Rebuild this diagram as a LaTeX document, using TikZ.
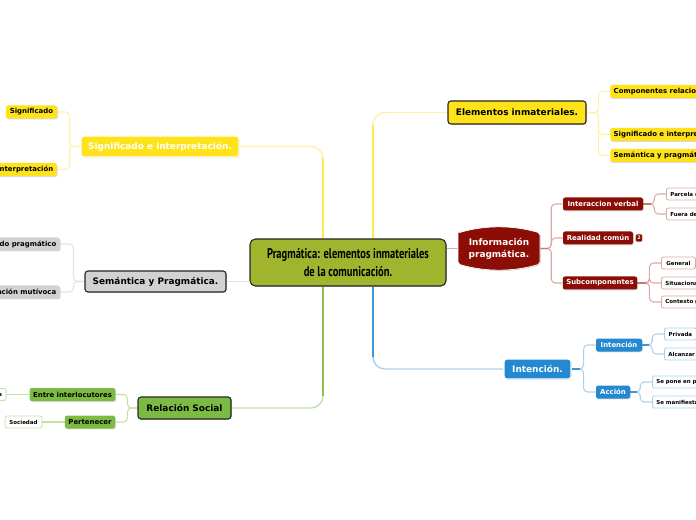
\documentclass[tikz,border=0pt]{standalone}
\usepackage{fontspec}
\usetikzlibrary{shadows,calc,backgrounds}
\newfontfamily\dvs{DejaVu Sans}
\newfontfamily\condf[FakeStretch=0.75]{PT Sans}
\definecolor{cen}{HTML}{A0B52D}
\definecolor{ylw}{HTML}{FFE31A}
\definecolor{gry}{HTML}{D2D2D2}
\definecolor{grn}{HTML}{7CBB42}
\definecolor{dred}{HTML}{8B0D05}
\definecolor{blu}{HTML}{2489D1}
\definecolor{ylA}{HTML}{FFE84A}
\definecolor{ylB}{HTML}{FFF1A6}
\definecolor{grA}{HTML}{E2E2E2}
\definecolor{gnA}{HTML}{8CC152}
\definecolor{gnB}{HTML}{C4E2A2}
\definecolor{rdA}{HTML}{C47A74}
\definecolor{rdB}{HTML}{DDA9A5}
\definecolor{blA}{HTML}{3C97D8}
\definecolor{blB}{HTML}{A9D2EF}
\tikzset{
  shd/.style={drop shadow={opacity=0.3,shadow xshift=0.6pt,shadow yshift=-0.7pt}},
  topic/.style={shd,rounded corners=2.2pt,inner sep=0pt,align=center,
    font=\dvs\bfseries\fontsize{6.7}{8.4}\selectfont},
  darkedge/.style={draw=black!85,line width=0.8pt},
  whiteedge/.style={draw=white,line width=0.8pt},
  sub/.style={shd,rounded corners=1.6pt,inner ysep=0pt,inner xsep=2.6pt,minimum height=9.75pt,
    font=\dvs\bfseries\fontsize{5.2}{6}\selectfont},
  leaf/.style={rounded corners=1.6pt,fill=white,line width=0.6pt,inner ysep=0pt,inner xsep=3pt,minimum height=9pt,
    font=\dvs\bfseries\fontsize{4.1}{5}\selectfont},
  thin/.style={line width=0.8pt,rounded corners=3pt},
  trunkA/.style={line width=1.1pt,rounded corners=9pt},
  trunkB/.style={line width=2pt},
}
\begin{document}
\begin{tikzpicture}[x=0.75pt,y=-0.75pt]
\useasboundingbox (0,0) rectangle (696,520);
% central
\node[shd,darkedge,fill=cen,rounded corners=4pt,minimum width=147pt,minimum height=35.25pt,inner sep=0pt,align=center,
  font=\condf\bfseries\fontsize{10.5}{13.5}\selectfont] (c) at (348,262.5)
  {Pragmática: elementos inmateriales\\de la comunicación.};
% main topics
\node[topic,whiteedge,fill=ylw,text=white,minimum width=118.5pt,minimum height=15.75pt] (sei) at (160,146.5) {Significado e interpretación.};
\node[topic,darkedge,fill=gry,minimum width=105.75pt,minimum height=15.75pt] (sp) at (155.5,281.5) {Semántica y Pragmática.};
\node[topic,darkedge,fill=grn,minimum width=69.75pt,minimum height=16.5pt] (rs) at (184.5,408) {Relación Social};
\node[topic,darkedge,fill=ylw,minimum width=103.5pt,minimum height=17.25pt] (ei2) at (517,112.5) {Elementos inmateriales.};
\node[topic,whiteedge,fill=blu,text=white,minimum width=50.25pt,minimum height=15pt] (in) at (537.5,369) {Intención.};
% informacion pragmatica shape
\fill[dred,shd,rounded corners=1.5pt] (458,233) -- (458,264) .. controls (485,272) and (513,272) .. (540,264) -- (540,233) .. controls (513,225) and (485,225) .. cycle;
\draw[white,line width=0.5pt,rounded corners=1.5pt] (458,233) -- (458,264) .. controls (485,272) and (513,272) .. (540,264) -- (540,233) .. controls (513,225) and (485,225) .. cycle;
\node[inner sep=0pt,minimum width=61.5pt,minimum height=30pt,align=center,text=white,font=\dvs\bfseries\fontsize{6.7}{9}\selectfont] (ip) at (499,248.5) {Información\\pragmática.};
% level 2 left
\node[sub,fill=ylw,minimum width=38.25pt] (sig) at (31.5,112) {Significado};
\node[sub,fill=ylw,anchor=east] (int) at (57,169.5) {Interpretación};
\node[sub,fill=gry,anchor=east] (sprag) at (60,244) {Significado pragmático};
\node[sub,fill=gry,anchor=east] (smut) at (60,292) {Significación mutívoca};
\node[sub,fill=grn,minimum width=63.75pt] (eint) at (72.5,394.5) {Entre interlocutores};
\node[sub,fill=grn,minimum width=37.5pt] (per) at (90,422) {Pertenecer};
\node[leaf,draw=gnB,anchor=east] (rel) at (6.5,394.5) {Relación directa};
\node[leaf,draw=gnB,minimum width=27.75pt] (soc) at (23.5,422) {Sociedad};
% level 2 right
\node[sub,fill=ylw,anchor=west] (cr) at (610,91.5) {Componentes relacionales};
\node[sub,fill=ylw,anchor=west] (sei3) at (610,134.5) {Significado e interpretación};
\node[sub,fill=ylw,anchor=west] (syp) at (610,155.5) {Semántica y pragmática};
\node[sub,fill=dred,text=white,minimum width=60pt] (iv) at (603,204) {Interaccion verbal};
\node[sub,fill=dred,text=white,minimum width=52.5pt] (rc) at (598,238) {Realidad común};
\node[rounded corners=1pt,fill=dred,draw=white,line width=0.4pt,inner sep=0pt,minimum width=5.5pt,minimum height=6pt,text=white,font=\dvs\bfseries\fontsize{3.6}{4}\selectfont] (bd) at (639,238) {2};
\node[sub,fill=dred,text=white,minimum width=55.5pt] (sc) at (600,283) {Subcomponentes};
\node[leaf,draw=rdB,anchor=west] (pc) at (666,194) {Parcela común};
\node[leaf,draw=rdB,anchor=west] (fd) at (666,214) {Fuera de lo verbal};
\node[leaf,draw=rdB,anchor=west,minimum width=25.5pt] (gen) at (661,263) {General};
\node[leaf,draw=rdB,anchor=west] (sit) at (661,283) {Situacional};
\node[leaf,draw=rdB,anchor=west] (ctx) at (661,302) {Contexto general};
\node[sub,fill=blu,text=white,minimum width=34.5pt] (ins) at (619,345) {Intención};
\node[sub,fill=blu,text=white,minimum width=25.5pt] (acc) at (613,392) {Acción};
\node[leaf,draw=blB,anchor=west,minimum width=24pt] (pri) at (664,334) {Privada};
\node[leaf,draw=blB,anchor=west] (alc) at (664,354) {Alcanzar un fin};
\node[leaf,draw=blB,anchor=west] (spp) at (652,382) {Se pone en práctica};
\node[leaf,draw=blB,anchor=west] (sma) at (652,402) {Se manifiesta};
\begin{pgfonlayer}{background}
% trunk connectors
\draw[trunkA,ylB] ($(c.north)+(-25,0)$) |- (sei.east);
\draw[trunkB,ylA] ($(c.north)+(-25,0)$) -- ($(sei.east -| c.north)+(-25,12)$);
\draw[trunkA,ylB] ($(c.north)+(25,0)$) |- (ei2.west);
\draw[trunkB,ylA] ($(c.north)+(25,0)$) -- ($(ei2.west -| c.north)+(25,13)$);
\draw[line width=1pt,grA] (sp.east) -- (sp.east -| c.west);
\draw[trunkA,gnB] ($(c.south)+(-25,0)$) |- (rs.east);
\draw[trunkB,gnA] ($(c.south)+(-25,0)$) -- ($(rs.east -| c.south)+(-25,-12)$);
\draw[trunkA,blB] ($(c.south)+(25,0)$) |- (in.west);
\draw[trunkB,blA] ($(c.south)+(25,0)$) -- ($(in.west -| c.south)+(25,-12)$);
\draw[line width=1pt,rdB] (ip.west) -- (ip.west -| c.east);
% sub connectors
\draw[thin,ylB] (sei.west) -- ++(-11,0) |- (sig.east);
\draw[thin,ylB] (sei.west) -- ++(-11,0) |- (int.east);
\draw[thin,grA] (sp.west) -- ++(-11,0) |- (sprag.east);
\draw[thin,grA] (sp.west) -- ++(-11,0) |- (smut.east);
\draw[thin,gnB] (rs.west) -- ++(-10,0) |- (eint.east);
\draw[thin,gnB] (rs.west) -- ++(-10,0) |- (per.east);
\draw[thin,gnB] (eint.west) -- (rel.east);
\draw[thin,gnB] (per.west) -- (soc.east);
\draw[thin,ylB] (ei2.east) -- ++(12,0) |- (cr.west);
\draw[thin,ylB] (ei2.east) -- ++(12,0) |- (sei3.west);
\draw[thin,ylB] (ei2.east) -- ++(12,0) |- (syp.west);
\draw[thin,rdB] (ip.east) -- ++(11,0) |- (iv.west);
\draw[thin,rdB] (ip.east) -- ++(11,0) |- (rc.west);
\draw[thin,rdB] (ip.east) -- ++(11,0) |- (sc.west);
\draw[thin,rdB] (iv.east) -- ++(11,0) |- (pc.west);
\draw[thin,rdB] (iv.east) -- ++(11,0) |- (fd.west);
\draw[thin,rdB] (sc.east) -- ++(12,0) |- (gen.west);
\draw[thin,rdB] (sc.east) -- ++(12,0) |- (sit.west);
\draw[thin,rdB] (sc.east) -- ++(12,0) |- (ctx.west);
\draw[line width=1pt,rdA] (ip.east) -- ++(8,0);
\draw[line width=1pt,rdA] (iv.east) -- ++(8,0);
\draw[line width=1pt,rdA] (sc.east) -- ++(9,0);
\draw[thin,blB] (in.east) -- ++(12,0) |- (ins.west);
\draw[thin,blB] (in.east) -- ++(12,0) |- (acc.west);
\draw[thin,blB] (ins.east) -- ++(10,0) |- (pri.west);
\draw[thin,blB] (ins.east) -- ++(10,0) |- (alc.west);
\draw[thin,blB] (acc.east) -- ++(10,0) |- (spp.west);
\draw[thin,blB] (acc.east) -- ++(10,0) |- (sma.west);
\draw[line width=1pt,blA] (ins.east) -- ++(7,0);
\draw[line width=1pt,blA] (acc.east) -- ++(7,0);
\draw[line width=1pt,blA] (in.east) -- ++(8,0);
\end{pgfonlayer}
\end{tikzpicture}
\end{document}
